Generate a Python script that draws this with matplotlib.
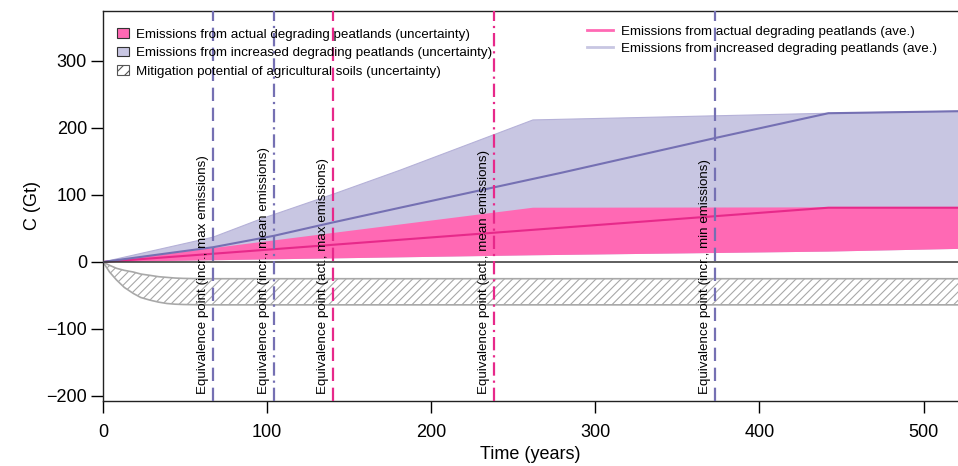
import matplotlib
matplotlib.use("Agg")
import matplotlib.pyplot as plt
from matplotlib.patches import Patch
from matplotlib.lines import Line2D
from matplotlib.transforms import offset_copy
import numpy as np

plt.rcParams['font.family'] = ['Liberation Sans', 'DejaVu Sans']
plt.rcParams['hatch.linewidth'] = 0.8

# ---------------- data ----------------
# Emissions from actual degrading peatlands
act_mean_x = [0, 442, 521]
act_mean_y = [0, 81, 81]
act_up_x = [0, 262, 442, 521]
act_up_y = [0, 81, 81.5, 81.5]
act_lo_x = [0, 262, 442, 521]
act_lo_y = [0, 10, 15.5, 19.5]

# Emissions from increased degrading peatlands
inc_mean_x = [0, 67, 104, 140, 181, 279, 373, 442, 521]
inc_mean_y = [0, 22, 39, 59, 81, 133, 185, 222, 225]
inc_up_x = [0, 67, 96, 140, 181, 262, 442, 521]
inc_up_y = [0, 37, 64, 101, 137, 212, 222, 225]
inc_lo_x = act_lo_x
inc_lo_y = act_lo_y

# Mitigation potential of agricultural soils
mit_x = [0, 4, 8.3, 13, 18.5, 23, 28.7, 34, 39, 44, 49, 60, 80, 521]
mit_up = [0, -5, -9.5, -12.5, -15, -18, -20, -22, -23, -24, -24.5, -25, -25, -25]
mit_lo = [0, -15, -27, -38, -47, -53, -57, -60, -62, -63, -63.5, -64, -64, -64]

# Equivalence points
eq_years = [67, 104, 140, 238, 373]
eq_labels = ["Equivalence point (incr., max emissions)",
             "Equivalence point (incr., mean emissions)",
             "Equivalence point (act., max emissions)",
             "Equivalence point (act., mean emissions)",
             "Equivalence point (incr., min emissions)"]
eq_group = ["inc", "inc", "act", "act", "inc"]
eq_style = ["dashed", "dashdot", "dashed", "dashdot", "dashed"]

x_ticks = [0, 100, 200, 300, 400, 500]
y_ticks = [-200, -100, 0, 100, 200, 300]

# ---------------- styles ----------------
PINK_FILL = '#FF69B4'
PINK_LINE = '#E7298A'
PURP_FILL = '#C8C6E2'
PURP_LINE = '#7570B3'
GREY = '#A8A8A8'
dash_map = {"dashed": (0, (6, 3)), "dashdot": (0, (6, 2.2, 1, 2.2))}
col_map = {"inc": PURP_LINE, "act": PINK_LINE}

fig = plt.figure(figsize=(9.58, 4.66), dpi=100)
ax = fig.add_axes([103/958, 1-401/466, 855/958, 390/466])

gx = np.linspace(0, 521, 2000)
def interp(xs, ys):
    return np.interp(gx, xs, ys)

ax.fill_between(gx, interp(inc_lo_x, inc_lo_y), interp(inc_up_x, inc_up_y),
                facecolor=PURP_FILL, edgecolor='none', zorder=1)
ax.plot(inc_up_x, inc_up_y, color='#B5B1D8', lw=0.8, zorder=1.2)
ax.fill_between(gx, interp(act_lo_x, act_lo_y), interp(act_up_x, act_up_y),
                facecolor=PINK_FILL, edgecolor='none', zorder=2)
ax.fill_between(mit_x, mit_lo, mit_up, facecolor='white', edgecolor=GREY,
                hatch='////', lw=0, zorder=2)
ax.plot(mit_x, mit_up, color=GREY, lw=1.2, zorder=2.5)
ax.plot(mit_x, mit_lo, color=GREY, lw=1.2, zorder=2.5)

ax.plot(act_mean_x, act_mean_y, color=PINK_LINE, lw=1.5, zorder=3)
ax.plot(inc_mean_x, inc_mean_y, color=PURP_LINE, lw=1.5, zorder=3)
ax.axhline(0, color='#333333', lw=1.1, zorder=3.5)

for yr, lab, grp, st in zip(eq_years, eq_labels, eq_group, eq_style):
    ax.axvline(yr, color=col_map[grp], lw=1.6, ls=dash_map[st], zorder=4)
    tr = offset_copy(ax.transData, fig=fig, x=-4, y=0, units='dots')
    ax.text(yr, -197, lab, rotation=90, ha='right', va='bottom',
            fontsize=9.6, color='black', transform=tr, zorder=5)

ax.set_xlim(0, 521)
ax.set_ylim(-207.5, 374.6)
ax.set_xticks(x_ticks)
ax.set_yticks(y_ticks)
ax.tick_params(axis='both', labelsize=13, length=8.5, width=1, direction='out')
ax.tick_params(axis='x', pad=8)
ax.tick_params(axis='y', pad=3)
ax.spines['right'].set_visible(False)
for s in ['left', 'top', 'bottom']:
    ax.spines[s].set_linewidth(1)
    ax.spines[s].set_color('#222222')
ax.set_xlabel('Time (years)', fontsize=13, labelpad=4)
ax.set_ylabel('C (Gt)', fontsize=13, labelpad=4)

h1 = [Patch(facecolor=PINK_FILL, edgecolor='#333333', lw=0.8),
      Patch(facecolor=PURP_FILL, edgecolor='#333333', lw=0.8),
      Patch(facecolor='white', edgecolor='#555555', lw=0.8, hatch='///')]
l1 = ["Emissions from actual degrading peatlands (uncertainty)",
      "Emissions from increased degrading peatlands (uncertainty)",
      "Mitigation potential of agricultural soils (uncertainty)"]
leg1 = ax.legend(h1, l1, loc='upper left', bbox_to_anchor=(0.0164, 0.956),
                 frameon=False, fontsize=9.6, handlelength=0.9, handleheight=0.75,
                 handletextpad=0.55, borderpad=0, borderaxespad=0, labelspacing=0.45)
ax.add_artist(leg1)

h2 = [Line2D([], [], color=PINK_FILL, lw=2),
      Line2D([], [], color=PURP_FILL, lw=2)]
l2 = ["Emissions from actual degrading peatlands (ave.)",
      "Emissions from increased degrading peatlands (ave.)"]
ax.legend(h2, l2, loc='upper left', bbox_to_anchor=(0.566, 0.962),
          frameon=False, fontsize=9.6, handlelength=1.95, handletextpad=0.6,
          borderpad=0, borderaxespad=0, labelspacing=0.35)

fig.savefig('out.png', dpi=100)
